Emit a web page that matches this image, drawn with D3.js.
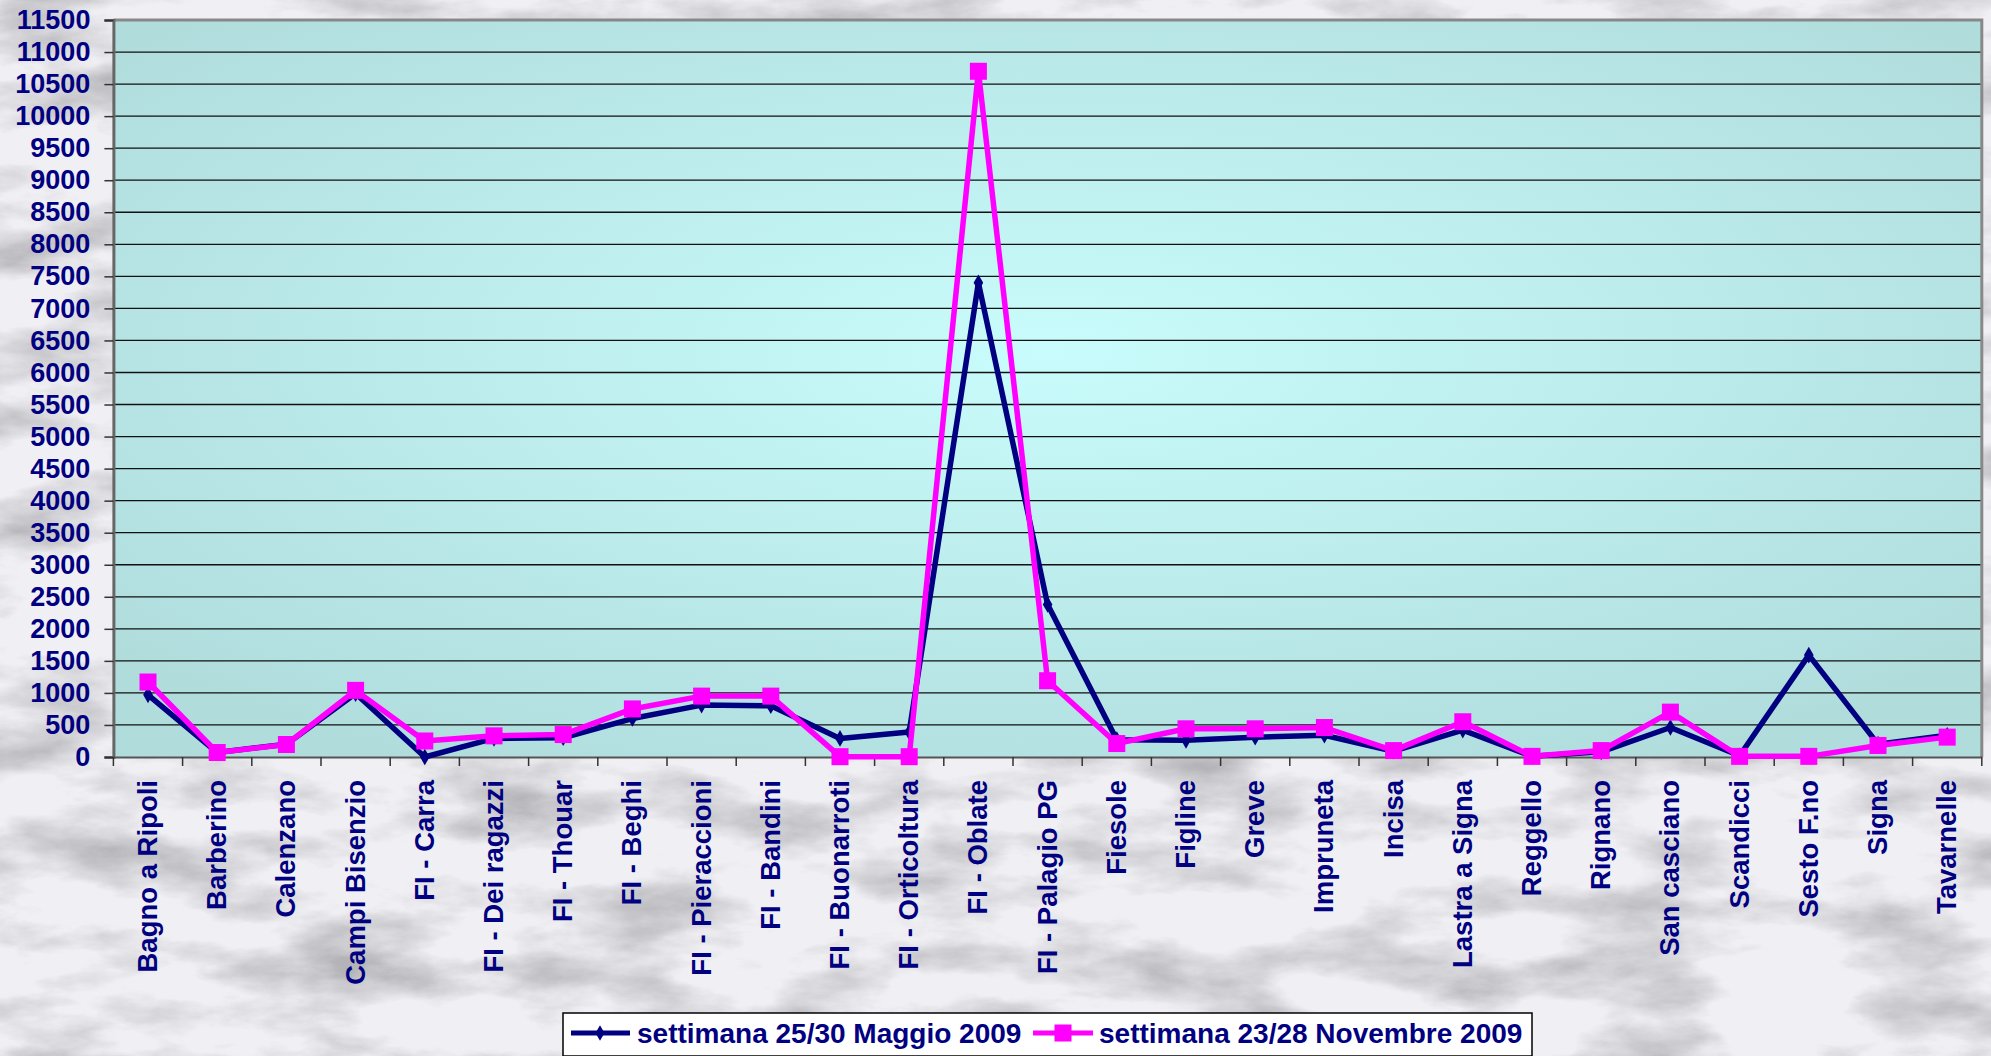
<!DOCTYPE html>
<html>
<head>
<meta charset="utf-8">
<script src="https://cdn.jsdelivr.net/npm/d3@7"></script>
<style>
  html, body { margin: 0; padding: 0; background: #ececf0; }
  svg { display: block; }
  text { font-family: "Liberation Sans", Arial, sans-serif; font-weight: bold; fill: #000080; }
</style>
</head>
<body>
<svg id="chart" width="1991" height="1056"></svg>
<script>
const categories = ["Bagno a Ripoli","Barberino","Calenzano","Campi Bisenzio","FI - Carra","FI - Dei ragazzi","FI - Thouar","FI - Beghi","FI - Pieraccioni","FI - Bandini","FI - Buonarroti","FI - Orticoltura","FI - Oblate","FI - Palagio PG","Fiesole","Figline","Greve","Impruneta","Incisa","Lastra a Signa","Reggello","Rignano","San casciano","Scandicci","Sesto F.no","Signa","Tavarnelle"];
const maggio2009 = [970, 70, 200, 990, 0, 290, 300, 600, 810, 800, 290, 390, 7400, 2380, 270, 260, 310, 340, 90, 420, 10, 80, 460, 20, 1590, 200, 340];
const novembre2009 = [1170, 70, 195, 1040, 250, 330, 350, 750, 950, 950, 5, 5, 10700, 1190, 210, 440, 440, 460, 100, 550, 10, 100, 700, 10, 10, 180, 310];
const yTicks = d3.range(0, 11501, 500);
const seriesNames = ["settimana 25/30 Maggio 2009", "settimana 23/28 Novembre 2009"];

const svg = d3.select("#chart");
const W = 1991, H = 1056;
const m = {left: 113.4, top: 20, right: 1981.8, bottom: 757};

const defs = svg.append("defs");
const f = defs.append("filter").attr("id", "marble").attr("x", 0).attr("y", 0).attr("width", "100%").attr("height", "100%");
f.append("feTurbulence").attr("type", "fractalNoise").attr("baseFrequency", "0.007 0.018").attr("numOctaves", 6).attr("seed", 11);
f.append("feColorMatrix").attr("type", "matrix")
  .attr("values", "0 0 0 0 0.45  0 0 0 0 0.45  0 0 0 0 0.48  2.2 0 0 0 -0.95");

const rg = defs.append("radialGradient").attr("id", "plotbg")
  .attr("cx", "50%").attr("cy", "45%").attr("r", "65%");
rg.append("stop").attr("offset", "0%").attr("stop-color", "#c9fcfc");
rg.append("stop").attr("offset", "100%").attr("stop-color", "#b0dcdc");

svg.append("rect").attr("width", W).attr("height", H).attr("fill", "#f0f0f4");
svg.append("rect").attr("width", W).attr("height", H).attr("filter", "url(#marble)");

const x = d3.scaleBand().domain(categories).range([m.left, m.right]).padding(0);
const y = d3.scaleLinear().domain([0, 11500]).range([m.bottom, m.top]);
const cx = d => x(d) + x.bandwidth() / 2;

svg.append("rect").attr("x", m.left).attr("y", m.top)
  .attr("width", m.right - m.left).attr("height", m.bottom - m.top)
  .attr("fill", "url(#plotbg)");

// gridlines
svg.append("g").selectAll("line").data(yTicks.filter(t => t > 0)).join("line")
  .attr("x1", m.left).attr("x2", m.right)
  .attr("y1", d => y(d)).attr("y2", d => y(d))
  .attr("stroke", "#111").attr("stroke-width", 1.3);

// frame
svg.append("path")
  .attr("d", `M${m.left},${m.top}H${m.right}V${m.bottom}`)
  .attr("fill", "none").attr("stroke", "#888").attr("stroke-width", 3);

// y axis
const yAxis = svg.append("g").attr("transform", `translate(${m.left},0)`)
  .call(d3.axisLeft(y).tickValues(yTicks).tickSize(9).tickPadding(14).tickFormat(d3.format("d")));
yAxis.select(".domain").attr("stroke", "#666").attr("stroke-width", 3);
yAxis.selectAll(".tick line").attr("stroke", "#333").attr("stroke-width", 1.5);
yAxis.selectAll("text").attr("font-size", 27).attr("fill", "#000080")
  .attr("font-family", "Liberation Sans, Arial, sans-serif").attr("font-weight", "bold");

// x axis
const xAxis = svg.append("g").attr("transform", `translate(0,${m.bottom})`)
  .call(d3.axisBottom(x).tickSize(0).tickFormat(d => d));
xAxis.select(".domain").attr("stroke", "#555").attr("stroke-width", 2);
xAxis.selectAll(".tick text")
  .attr("font-size", 27.5).attr("fill", "#000080")
  .attr("font-family", "Liberation Sans, Arial, sans-serif").attr("font-weight", "bold")
  .attr("text-anchor", "end").attr("dy", null)
  .attr("transform", "translate(9,23) rotate(-90)")
  .attr("x", 0).attr("y", 0);
// category boundary ticks
svg.append("g").selectAll("line").data(categories.concat(["__end"])).join("line")
  .attr("x1", (d, i) => m.left + i * x.bandwidth()).attr("x2", (d, i) => m.left + i * x.bandwidth())
  .attr("y1", m.bottom).attr("y2", m.bottom + 9)
  .attr("stroke", "#333").attr("stroke-width", 1.5);

// lines
const line = d3.line().x((d, i) => cx(categories[i])).y(d => y(d));
svg.append("path").datum(maggio2009).attr("d", line)
  .attr("fill", "none").attr("stroke", "#000080").attr("stroke-width", 5.5).attr("stroke-linejoin", "round");
svg.append("g").selectAll("path").data(maggio2009).join("path")
  .attr("d", d3.symbol(d3.symbolDiamond, 80))
  .attr("transform", (d, i) => `translate(${cx(categories[i])},${y(d)})`)
  .attr("fill", "#000080");

svg.append("path").datum(novembre2009).attr("d", line)
  .attr("fill", "none").attr("stroke", "#ff00ff").attr("stroke-width", 5.5).attr("stroke-linejoin", "round");
svg.append("g").selectAll("rect").data(novembre2009).join("rect")
  .attr("x", (d, i) => cx(categories[i]) - 8.5).attr("y", d => y(d) - 8.5)
  .attr("width", 17).attr("height", 17).attr("fill", "#ff00ff");

// legend
const lg = svg.append("g");
lg.append("rect").attr("x", 563).attr("y", 1013).attr("width", 969).attr("height", 43)
  .attr("fill", "#fff").attr("stroke", "#000").attr("stroke-width", 1.5);
const lcy = 1033;
lg.append("line").attr("x1", 571).attr("x2", 630).attr("y1", lcy).attr("y2", lcy)
  .attr("stroke", "#000080").attr("stroke-width", 5);
lg.append("path").attr("d", d3.symbol(d3.symbolDiamond, 70)).attr("transform", `translate(600,${lcy})`).attr("fill", "#000080");
lg.append("text").attr("x", 637).attr("y", lcy).attr("dy", "0.36em").attr("font-size", 28).text(seriesNames[0]);
lg.append("line").attr("x1", 1033).attr("x2", 1093).attr("y1", lcy).attr("y2", lcy)
  .attr("stroke", "#ff00ff").attr("stroke-width", 5);
lg.append("rect").attr("x", 1063 - 8.5).attr("y", lcy - 8.5).attr("width", 17).attr("height", 17).attr("fill", "#ff00ff");
lg.append("text").attr("x", 1099).attr("y", lcy).attr("dy", "0.36em").attr("font-size", 28).text(seriesNames[1]);
</script>
</body>
</html>
